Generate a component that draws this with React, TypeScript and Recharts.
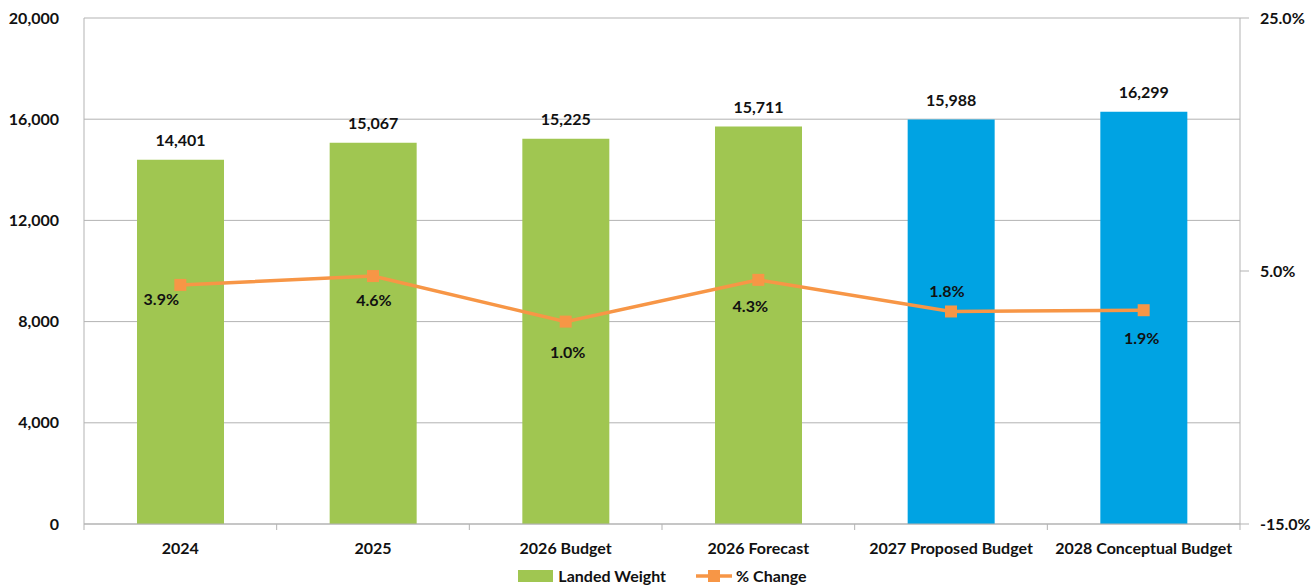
import { ComposedChart, Bar, Line, XAxis, YAxis, CartesianGrid, Legend, LabelList, Cell } from "recharts"

const CATEGORIES = [
  "2024", "2025", "2026 Budget", "2026 Forecast",
  "2027 Proposed Budget", "2028 Conceptual Budget",
]
const LANDED_WEIGHT = [14401, 15067, 15225, 15711, 15988, 16299]
const PCT_CHANGE = [3.9, 4.6, 1.0, 4.3, 1.8, 1.9]

const LEFT_TICKS = [0, 4000, 8000, 12000, 16000, 20000]
const RIGHT_TICKS = [-15, 5, 25]

// colours / label nudges (Excel-ish placement)
const BAR_FILLS = ["#A0C651", "#A0C651", "#A0C651", "#A0C651", "#00A3E3", "#00A3E3"]
const PCT_LABEL_DX = [-19, 1, 2, -8, -4, -2]
const PCT_LABEL_DY = [14, 23, 30, 26, -21, 27]

const FONT = "Lato, 'Open Sans', sans-serif"
const FS = 16
const GREY = "#B3B3B3"
const ORANGE = "#F79646"

const data = CATEGORIES.map((name, i) => ({
  name,
  weight: LANDED_WEIGHT[i],
  pct: PCT_CHANGE[i],
}))

function CategoryTick(props: any) {
  const { x, y, payload, index } = props
  const half = payload.offset ?? 0
  const last = index === CATEGORIES.length - 1
  return (
    <g>
      <line x1={x - half} x2={x - half} y1={y} y2={y + 6} stroke={GREY} />
      {last && <line x1={x + half} x2={x + half} y1={y} y2={y + 6} stroke={GREY} />}
      <text x={x} y={y + 30} textAnchor="middle" fontFamily={FONT} fontWeight={700} fontSize={FS} fill="#111">
        {payload.value}
      </text>
    </g>
  )
}

function SquareDot(props: any) {
  const { cx, cy } = props
  if (cx == null || cy == null) return null
  return <rect x={cx - 6} y={cy - 6} width={12} height={12} fill={ORANGE} />
}

function PctLabel(props: any) {
  const { x, y, value, index } = props
  return (
    <text
      x={x + PCT_LABEL_DX[index]}
      y={y + PCT_LABEL_DY[index]}
      textAnchor="middle"
      dominantBaseline="central"
      fontFamily={FONT}
      fontWeight={700}
      fontSize={FS}
      fill="#111"
    >
      {`${Number(value).toFixed(1)}%`}
    </text>
  )
}

function LegendBox() {
  const text = { fontFamily: FONT, fontWeight: 700, fontSize: FS, color: "#111" }
  return (
    <div style={{ display: "flex", justifyContent: "center", alignItems: "center", height: 23, paddingLeft: 12 }}>
      <span style={{ display: "inline-block", width: 35, height: 12, background: BAR_FILLS[0], marginRight: 5 }} />
      <span style={{ ...text, marginRight: 30 }}>Landed Weight</span>
      <svg width={36} height={14} style={{ marginRight: 4 }}>
        <line x1={0} x2={36} y1={7} y2={7} stroke={ORANGE} strokeWidth={3.5} />
        <rect x={12} y={1} width={12} height={12} fill={ORANGE} />
      </svg>
      <span style={text}>% Change</span>
    </div>
  )
}

export default function App() {
  return (
    <div>
      <style>{`body{margin:0}`}</style>
      <ComposedChart
        width={1313}
        height={587}
        data={data}
        margin={{ top: 18, right: 0, bottom: 0, left: 0 }}
      >
        <CartesianGrid yAxisId="left" vertical={false} stroke={GREY} />
        <XAxis
          dataKey="name"
          height={40}
          axisLine={{ stroke: GREY }}
          tickLine={false}
          tickSize={0}
          tickMargin={0}
          interval={0}
          tick={<CategoryTick />}
        />
        <YAxis
          yAxisId="left"
          width={84}
          domain={[0, 20000]}
          ticks={LEFT_TICKS}
          tickFormatter={(v: number) => v.toLocaleString("en-US")}
          axisLine={{ stroke: GREY }}
          tickLine={false}
          tickMargin={19}
          tick={{ fontFamily: FONT, fontWeight: 700, fontSize: FS, fill: "#111" }}
        />
        <YAxis
          yAxisId="right"
          orientation="right"
          width={73}
          domain={[-15, 25]}
          ticks={RIGHT_TICKS}
          tickFormatter={(v: number) => `${v.toFixed(1)}%`}
          axisLine={{ stroke: GREY }}
          tickLine={{ stroke: GREY }}
          tickSize={9}
          tickMargin={11}
          tick={{ fontFamily: FONT, fontWeight: 700, fontSize: FS, fill: "#111" }}
        />
        <Legend verticalAlign="bottom" height={23} content={<LegendBox />} />
        <Bar yAxisId="left" dataKey="weight" name="Landed Weight" barSize={87} isAnimationActive={false}>
          {data.map((d, i) => (
            <Cell key={d.name} fill={BAR_FILLS[i]} />
          ))}
          <LabelList
            dataKey="weight"
            position="top"
            offset={14}
            formatter={(v: any) => Number(v).toLocaleString("en-US")}
            style={{ fontFamily: FONT, fontWeight: 700, fontSize: FS, fill: "#111" }}
          />
        </Bar>
        <Line
          yAxisId="right"
          dataKey="pct"
          name="% Change"
          type="linear"
          stroke={ORANGE}
          strokeWidth={3.5}
          dot={<SquareDot />}
          activeDot={false}
          isAnimationActive={false}
        >
          <LabelList dataKey="pct" content={<PctLabel />} />
        </Line>
      </ComposedChart>
    </div>
  )
}
